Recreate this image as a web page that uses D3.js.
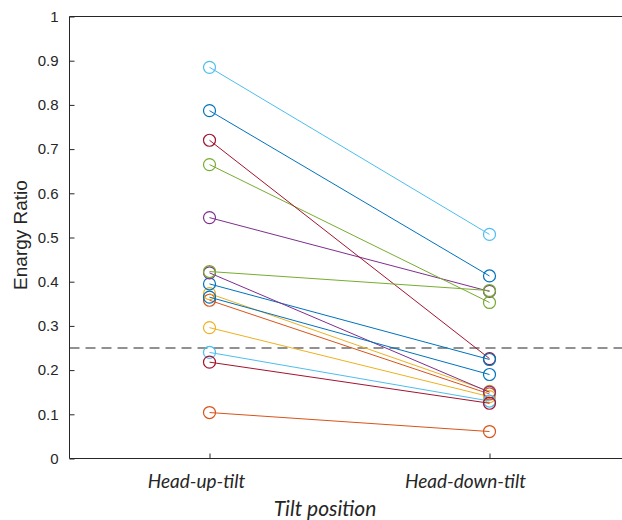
<!DOCTYPE html>
<html>
<head>
<meta charset="utf-8">
<script src="https://cdn.jsdelivr.net/npm/d3@7"></script>
<style>
  html, body { margin: 0; padding: 0; background: #fff; }
  svg { display: block; }
</style>
</head>
<body>
<svg id="chart" width="622" height="520"></svg>
<script>
// Tilt positions on the x axis
const categories = ["Head-up-tilt", "Head-down-tilt"];
// Energy ratio per subject in each tilt position
const headUp   = [0.787, 0.358, 0.373, 0.545, 0.665, 0.885, 0.720, 0.395, 0.104, 0.296, 0.420, 0.423, 0.240, 0.218, 0.365];
const headDown = [0.413, 0.146, 0.152, 0.378, 0.353, 0.507, 0.226, 0.224, 0.061, 0.140, 0.150, 0.380, 0.130, 0.125, 0.190];
// Line colour order, cycled over subjects
const palette = ["#0072BD", "#D95319", "#EDB120", "#7E2F8E", "#77AC30", "#4DBEEE", "#A2142F"];
const yTicks = [0, 0.1, 0.2, 0.3, 0.4, 0.5, 0.6, 0.7, 0.8, 0.9, 1];
const threshold = 0.25;

const svg = d3.select("#chart");
const plotLeft = 69.5, plotTop = 16.5, plotBottom = 458.5;

const x = d3.scaleLinear().domain([0.5, 2.5]).range([plotLeft, plotLeft + 560]);
const y = d3.scaleLinear().domain([0, 1]).range([plotBottom, plotTop]);
const axisColor = "#262626";
const sansFont = "Arial, 'Liberation Sans', sans-serif";
const italicFont = "Lato, 'Open Sans', sans-serif";

// Threshold line
svg.append("line")
  .attr("x1", plotLeft).attr("x2", 622)
  .attr("y1", y(threshold)).attr("y2", y(threshold))
  .attr("stroke", "#6e6e6e").attr("stroke-width", 1.3)
  .attr("stroke-dasharray", "10,6");

// Subject lines and markers
const subjects = headUp.map((v, i) => ({ a: v, b: headDown[i], color: palette[i % palette.length] }));
const g = svg.append("g");
subjects.forEach(s => {
  const pts = [[1, s.a], [2, s.b]];
  g.append("path")
    .attr("d", d3.line().x(d => x(d[0])).y(d => y(d[1]))(pts))
    .attr("fill", "none").attr("stroke", s.color).attr("stroke-width", 1);
  g.selectAll(null).data(pts).enter().append("circle")
    .attr("cx", d => x(d[0])).attr("cy", d => y(d[1])).attr("r", 6)
    .attr("fill", "none").attr("stroke", s.color).attr("stroke-width", 1.2);
});

// Y axis (ticks pointing inward)
const yAxis = svg.append("g").attr("transform", `translate(${plotLeft},0)`)
  .call(d3.axisRight(y).tickValues(yTicks).tickSize(5).tickFormat(d3.format("")));
yAxis.attr("font-family", null).attr("font-size", null);
yAxis.select(".domain").remove();
yAxis.selectAll(".tick line").attr("stroke", axisColor);
yAxis.selectAll(".tick text")
  .attr("x", -11).attr("text-anchor", "end")
  .attr("fill", axisColor)
  .style("font-family", sansFont).style("font-size", "15px");
svg.append("line").attr("x1", plotLeft).attr("x2", plotLeft).attr("y1", plotTop).attr("y2", plotBottom)
  .attr("stroke", axisColor).attr("stroke-width", 1);
svg.append("line").attr("x1", plotLeft).attr("x2", 622).attr("y1", plotTop).attr("y2", plotTop)
  .attr("stroke", axisColor).attr("stroke-width", 1);

// X axis (ticks pointing inward)
const xAxis = svg.append("g").attr("transform", `translate(0,${plotBottom})`)
  .call(d3.axisTop(x).tickValues([1, 2]).tickSize(5).tickFormat(() => ""));
xAxis.select(".domain").remove();
xAxis.selectAll(".tick line").attr("stroke", axisColor);
svg.append("line").attr("x1", plotLeft).attr("x2", 622).attr("y1", plotBottom).attr("y2", plotBottom)
  .attr("stroke", axisColor).attr("stroke-width", 1);

// Category labels
const labelOffset = [-13, -24];
svg.selectAll(".cat").data(categories).enter().append("text")
  .attr("x", (d, i) => x(i + 1) + labelOffset[i]).attr("y", 488)
  .attr("text-anchor", "middle").attr("fill", axisColor)
  .style("font-family", italicFont).style("font-style", "italic")
  .style("font-size", "19px").text(d => d);

// Axis titles
svg.append("text").attr("x", 325).attr("y", 516).attr("text-anchor", "middle")
  .attr("fill", axisColor)
  .style("font-family", italicFont).style("font-style", "italic")
  .style("font-size", "21px").text("Tilt position");
svg.append("text").attr("transform", `translate(27,235) rotate(-90)`)
  .attr("text-anchor", "middle").attr("fill", axisColor)
  .style("font-family", sansFont)
  .style("font-size", "19px").text("Enargy Ratio");
</script>
</body>
</html>
